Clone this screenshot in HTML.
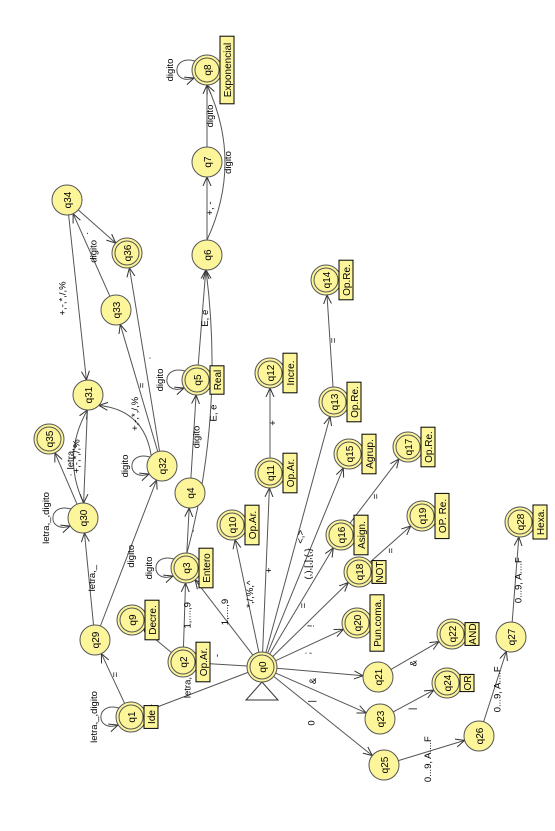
<!DOCTYPE html>
<html><head><meta charset="utf-8"><style>
html,body{margin:0;padding:0;background:#fff;}
svg{display:block;font-family:"Liberation Sans",sans-serif;}
</style></head><body>
<svg id="g" width="555" height="831" viewBox="0 0 555 831" xmlns="http://www.w3.org/2000/svg">
<defs><marker id="ar" markerWidth="10" markerHeight="10" refX="9" refY="5" orient="auto" markerUnits="userSpaceOnUse"><path d="M0,1 L9,5 L0,9" fill="none" stroke="#333" stroke-width="1"/></marker></defs>
</svg>
<script>
const stateNames=["q0","q1","q2","q3","q4","q5","q6","q7","q8","q9","q10","q11","q12","q13","q14","q15","q16","q17","q18","q19","q20","q21","q22","q23","q24","q25","q26","q27","q28","q29","q30","q31","q32","q33","q34","q35","q36"];
const stateX=[262,131,183,186,190,197,207,207,207,132,232,270,270,334,326,349,341,408,359,422,357,378,452,380,447,384,479,511,520,95,83,88,162,116,67,49,127];
const stateY=[667,717,662,568,493,380,255,162,70,620,525,473,373,402,280,454,535,447,572,516,623,677,634,719,683,765,736,637,522,640,518,395,466,310,200,439,253];
const finalStates=["q0","q1","q2","q3","q5","q8","q9","q10","q11","q12","q13","q14","q15","q16","q17","q18","q19","q20","q22","q24","q28","q35","q36"];
const tagStates=["q1","q2","q3","q5","q8","q9","q10","q11","q12","q13","q14","q15","q16","q17","q18","q19","q20","q22","q24","q28"];
const tagTexts=["Ide","Op.Ar.","Entero","Real","Exponencial","Decre.","Op.Ar.","Op.Ar.","Incre.","Op.Re.","Op.Re.","Agrup.","Asign.","Op.Re.","NOT","OP. Re.","Pun.coma.","AND","OR","Hexa."];
const edgeFrom=["q0","q1","q29","q29","q30","q30","q31","q32","q32","q32","q33","q34","q34","q0","q2","q2","q0","q3","q4","q5","q3","q6","q7","q6","q0","q0","q11","q0","q13","q0","q0","q16","q0","q18","q0","q0","q21","q0","q23","q0","q25","q26","q27"];
const edgeTo=["q1","q29","q30","q32","q35","q31","q30","q31","q33","q36","q34","q31","q36","q2","q9","q3","q3","q4","q5","q6","q6","q7","q8","q8","q10","q11","q12","q13","q14","q15","q16","q17","q18","q19","q20","q21","q22","q23","q24","q25","q26","q27","q28"];
const edgeLabels=["letra, _","=","letra,_","digito",".","+,-,*,/,%","letra,_","+,-,*,/,%","=",".","digito","+,-,*,/,%",".","-","-","1,....,9","1,....,9",".","digito","E, e","E, e","+, -","digito","digito","*,/,%,^","+","+","<,>","=","(,),[,],{,}","=","=","!","=",";","&","&","|","|","0","0...9, A....F","0...9, A....F","0...9, A....F"];
const edgeBend=[0,0,0,0,0,-12,0,14,0,0,0,0,0,0,0,0,0,0,0,0,14,0,0,18,0,0,0,0,0,0,0,0,0,0,0,0,0,0,0,0,0,0,0];
const loopStates=["q1","q30","q32","q3","q5","q8"];
const loopLabels=["letra,_,digito","letra,_,digito","digito","digito","digito","digito"];

const NS="http://www.w3.org/2000/svg",svg=document.getElementById('g'),R=15;
function mk(t,a,p){const e=document.createElementNS(NS,t);for(const k in a)e.setAttribute(k,a[k]);(p||svg).appendChild(e);return e;}
function px(n){return stateX[stateNames.indexOf(n)];}
function py(n){return stateY[stateNames.indexOf(n)];}
function rtext(x,y,s,p,fs){const t=mk('text',{x:x,y:y,'font-size':fs||9.5,'text-anchor':'middle',fill:'#000',transform:`rotate(-90 ${x} ${y})`},p);t.textContent=s;return t;}
const eg=mk('g',{});


edgeFrom.forEach((f,i)=>{
  const x1=px(f),y1=py(f),x2=px(edgeTo[i]),y2=py(edgeTo[i]);
  const dx=x2-x1,dy=y2-y1,L=Math.hypot(dx,dy),ux=dx/L,uy=dy/L;
  const b=edgeBend[i],nx=-uy,ny=ux;
  const mx=(x1+x2)/2+nx*b*2,my=(y1+y2)/2+ny*b*2;
  const g=mk('g',{},eg);
  
  
  const sx=x1+ux*R,sy=y1+uy*R,ex=x2-ux*R,ey=y2-uy*R;
  mk('path',{d:`M${sx},${sy} Q${mx},${my} ${ex},${ey}`,fill:'none',stroke:'#555','stroke-width':1,'marker-end':'url(#ar)'},g);
  const lx=(x1+x2)/2+nx*(b+9),ly=(y1+y2)/2+ny*(b+9);
  rtext(lx-3,ly,edgeLabels[i],g);
});
loopStates.forEach((s,i)=>{
  const x=px(s),y=py(s);
  const g=mk('g',{});
  
  
  mk('path',{d:`M${x-12},${y-9} C${x-36},${y-16} ${x-36},${y+16} ${x-13},${y+8}`,fill:'none',stroke:'#555','marker-end':'url(#ar)'},g);
  rtext(x-34,y,loopLabels[i],g);
});
const tri=mk('path',{d:`M${px('q0')},${py('q0')+15} L${px('q0')-16},${py('q0')+33} L${px('q0')+16},${py('q0')+33} Z`,fill:'#fff',stroke:'#333'});


stateNames.forEach((n,i)=>{
  const x=stateX[i],y=stateY[i];
  const g=mk('g',{});
  
  
  mk('circle',{cx:x,cy:y,r:R,fill:'#fdf59a',stroke:'#555'},g);
  if(finalStates.includes(n))mk('circle',{cx:x,cy:y,r:R-3,fill:'none',stroke:'#555'},g);
  rtext(x+4,y,n,g,10);
  const k=tagStates.indexOf(n);
  if(k>=0){
    const s=tagTexts[k],h=s.length*5.6+6;
    mk('rect',{x:x+13,y:y-h/2,width:14,height:h,fill:'#fdf59a',stroke:'#000'},g);
    rtext(x+24,y,s,g,10);
  }
});
</script>
</body></html>
